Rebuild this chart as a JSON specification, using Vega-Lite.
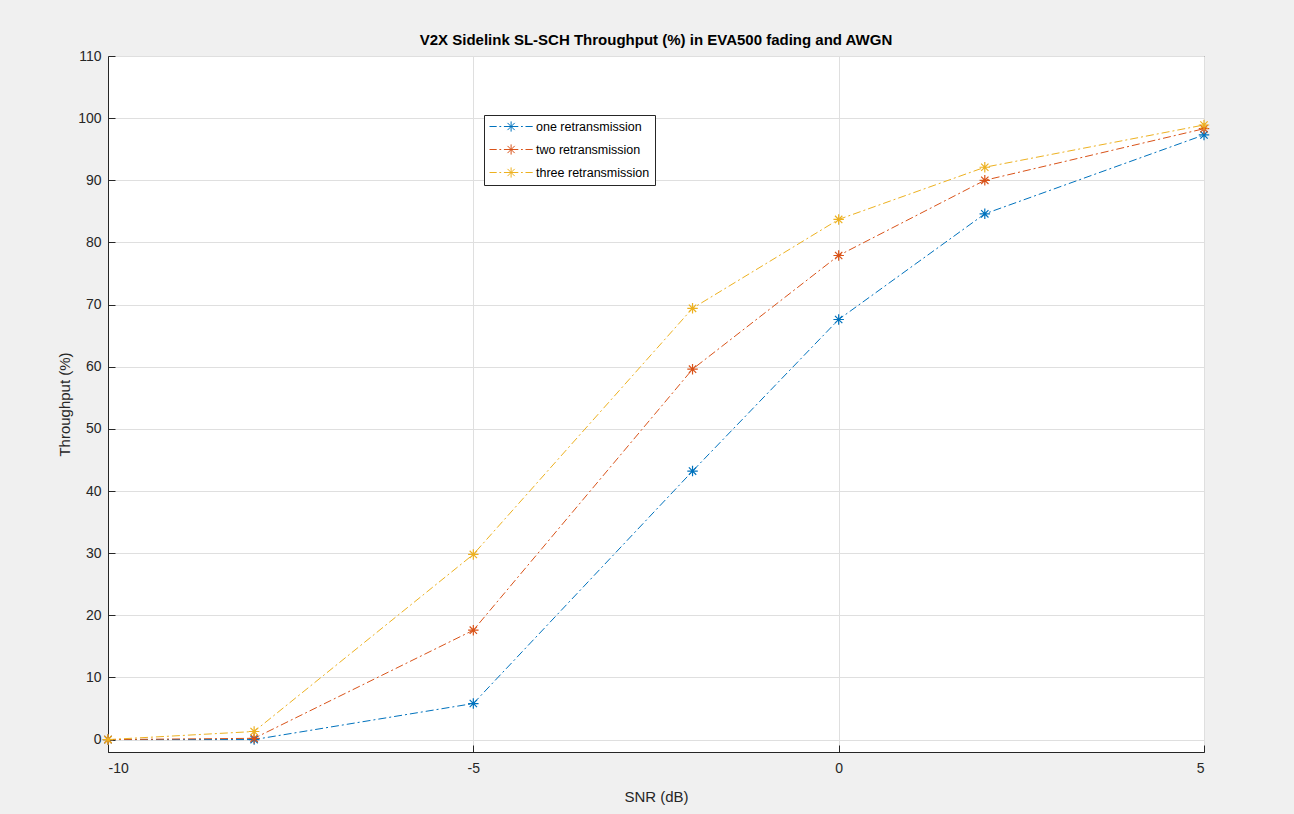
{
  "$schema": "https://vega.github.io/schema/vega-lite/v6.json",
  "width": 1096,
  "height": 696,
  "autosize": "none",
  "padding": {"left": 108, "top": 56, "right": 90, "bottom": 62},
  "background": "#f0f0f0",
  "title": {
    "text": "V2X Sidelink SL-SCH Throughput (%) in EVA500 fading and AWGN",
    "font": "Liberation Sans",
    "fontSize": 15,
    "fontWeight": "bold",
    "color": "#000000",
    "offset": 1
  },
  "config": {
    "view": {"fill": "white", "stroke": "#262626", "strokeWidth": 1},
    "axis": {
      "labelFont": "Liberation Sans",
      "titleFont": "Liberation Sans",
      "labelFontSize": 14,
      "titleFontSize": 15,
      "titleFontWeight": "normal",
      "labelColor": "#262626",
      "titleColor": "#262626",
      "domainColor": "#262626",
      "tickColor": "#262626",
      "gridColor": "#dfdfdf",
      "gridWidth": 1,
      "tickSize": -7,
      "labelExpr": "'' + datum.value"
    }
  },
  "data": {
    "values": [
      {"snr": -10, "tp": 0, "series": "one retransmission"},
      {"snr": -8, "tp": 0, "series": "one retransmission"},
      {"snr": -5, "tp": 5.8, "series": "one retransmission"},
      {"snr": -2, "tp": 43.2, "series": "one retransmission"},
      {"snr": 0, "tp": 67.6, "series": "one retransmission"},
      {"snr": 2, "tp": 84.6, "series": "one retransmission"},
      {"snr": 5, "tp": 97.3, "series": "one retransmission"},
      {"snr": -10, "tp": 0, "series": "two retransmission"},
      {"snr": -8, "tp": 0.2, "series": "two retransmission"},
      {"snr": -5, "tp": 17.6, "series": "two retransmission"},
      {"snr": -2, "tp": 59.6, "series": "two retransmission"},
      {"snr": 0, "tp": 77.9, "series": "two retransmission"},
      {"snr": 2, "tp": 90, "series": "two retransmission"},
      {"snr": 5, "tp": 98.3, "series": "two retransmission"},
      {"snr": -10, "tp": 0, "series": "three retransmission"},
      {"snr": -8, "tp": 1.3, "series": "three retransmission"},
      {"snr": -5, "tp": 29.8, "series": "three retransmission"},
      {"snr": -2, "tp": 69.4, "series": "three retransmission"},
      {"snr": 0, "tp": 83.7, "series": "three retransmission"},
      {"snr": 2, "tp": 92.1, "series": "three retransmission"},
      {"snr": 5, "tp": 98.9, "series": "three retransmission"}
    ]
  },
  "encoding": {
    "x": {
      "field": "snr",
      "type": "quantitative",
      "scale": {"domain": [-10, 5], "nice": false, "zero": false},
      "axis": {"values": [-10, -5, 0, 5], "title": "SNR (dB)", "labelPadding": 16, "titlePadding": 14}
    },
    "y": {
      "field": "tp",
      "type": "quantitative",
      "scale": {"domain": [-2, 110], "nice": false, "zero": false},
      "axis": {"values": [0, 10, 20, 30, 40, 50, 60, 70, 80, 90, 100, 110], "title": "Throughput (%)", "labelPadding": 14, "titlePadding": 5}
    },
    "color": {
      "field": "series",
      "type": "nominal",
      "sort": ["one retransmission", "two retransmission", "three retransmission"],
      "scale": {
        "domain": ["one retransmission", "two retransmission", "three retransmission"],
        "range": ["#0072BD", "#D95319", "#EDB120"]
      },
      "legend": {
        "title": null,
        "orient": "none",
        "legendX": 376,
        "legendY": 59,
        "fillColor": "white",
        "strokeColor": "#262626",
        "padding": 5,
        "labelFont": "Liberation Sans",
        "labelFontSize": 12.5,
        "labelColor": "#000000",
        "labelOffset": 34,
        "labelExpr": "datum.label + '    '",
        "rowPadding": 8,
        "symbolType": "M-1,0L0.2,0M0.65,0L0.95,0M1.4,0L1.9,0M3.3,0L3.8,0M4.25,0L4.55,0M5,0L6.2,0M2.6,-0.85L2.6,0.85M1.75,0L3.45,0M2.0,-0.6L3.2,0.6M2.0,0.6L3.2,-0.6",
        "symbolSize": 144,
        "symbolStrokeWidth": 1,
        "symbolFillColor": "transparent",
        "symbolOffset": 0
      }
    }
  },
  "layer": [
    {
      "mark": {"type": "line", "strokeWidth": 1, "strokeDash": [8, 3, 2, 3]}
    },
    {
      "mark": {
        "type": "point",
        "shape": "M-1,0L1,0M0,-1L0,1M-0.7,-0.7L0.7,0.7M-0.7,0.7L0.7,-0.7",
        "filled": false,
        "size": 110,
        "strokeWidth": 1.2,
        "opacity": 1
      }
    }
  ]
}
